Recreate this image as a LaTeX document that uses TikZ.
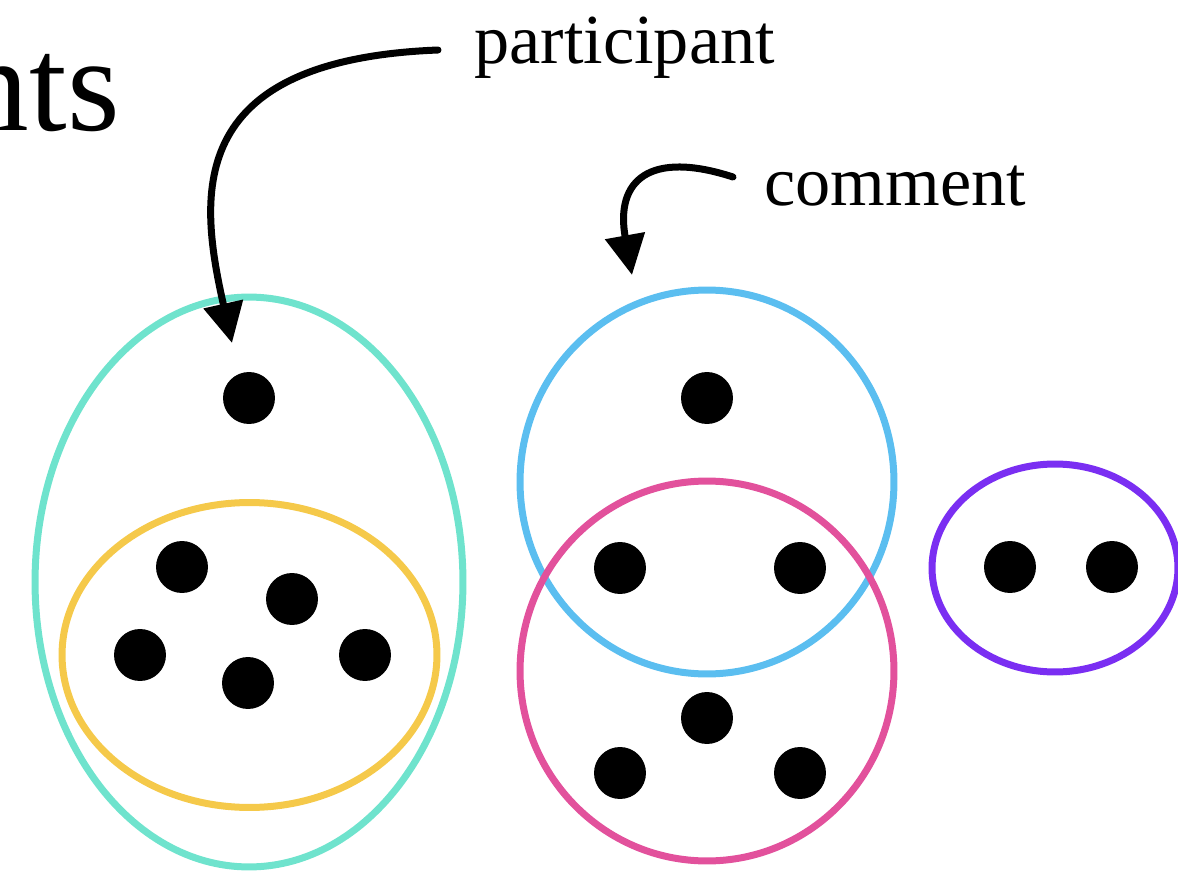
\documentclass[tikz,border=0pt]{standalone}
\usepackage{fontspec}
\setmainfont{Liberation Serif}
\usetikzlibrary{arrows.meta}
\definecolor{tealring}{HTML}{6FE3CD}
\definecolor{goldring}{HTML}{F5C94A}
\definecolor{bluering}{HTML}{5BBEF0}
\definecolor{pinkring}{HTML}{E2519C}
\definecolor{violetring}{HTML}{7A2EF2}
\begin{document}
\begin{tikzpicture}[x=0.02cm,y=-0.02cm,line join=round,line cap=round,
	dot/.style={circle,fill=black,inner sep=0pt,minimum size=1.04cm},
	ring/.style={line width=0.14cm},
	pointer/.style={line width=0.14cm,-{Triangle[length=0.8cm,width=0.78cm]}},
	tag/.style={inner sep=0pt,font=\fontsize{40}{44}\selectfont}]
	\useasboundingbox (0,0) rectangle (1178,872);
	% Nhãn
	\node[inner sep=0pt,anchor=base east,font=\fontsize{77}{80}\selectfont] (title) at (120,130) {nts};
	\node[tag,anchor=base west] (participant) at (474,63) {participant};
	\node[tag,anchor=base west] (comment) at (764,205) {comment};
	\coordinate (pstart) at (438,50);
	\coordinate (ptip) at (232,343);
	\coordinate (cstart) at (733,177);
	\coordinate (ctip) at (632,275);
	% Vòng
	\draw[ring,tealring] (249,582) ellipse [x radius=4.28cm,y radius=5.7cm];
	\draw[ring,goldring] (249.5,655) ellipse [x radius=3.75cm,y radius=3.05cm];
	\draw[ring,bluering] (707,482) ellipse [x radius=3.74cm,y radius=3.84cm];
	\draw[ring,pinkring] (707,671) ellipse [x radius=3.74cm,y radius=3.8cm];
	\draw[ring,violetring] (1055,568) ellipse [x radius=2.46cm,y radius=2.08cm];
	% Điểm
	\path
	(249,398) node[dot] (p1) {}
	(182,567) node[dot] (p2) {}
	(292,599) node[dot] (p3) {}
	(140,655) node[dot] (p4) {}
	(248,683) node[dot] (p5) {}
	(365,655) node[dot] (p6) {}
	(707,398) node[dot] (c1) {}
	(620,568) node[dot] (c2) {}
	(800,568) node[dot] (c3) {}
	(707,718) node[dot] (c4) {}
	(620,773) node[dot] (c5) {}
	(800,773) node[dot] (c6) {}
	(1010,567) node[dot] (v1) {}
	(1112,567) node[dot] (v2) {}
	;
	% Mũi tên
	\draw[pointer] (pstart) .. controls (180,60) and (200,200) .. (ptip);
	\draw[pointer] (cstart) .. controls (650,150) and (615,180) .. (ctip);
\end{tikzpicture}
\end{document}
